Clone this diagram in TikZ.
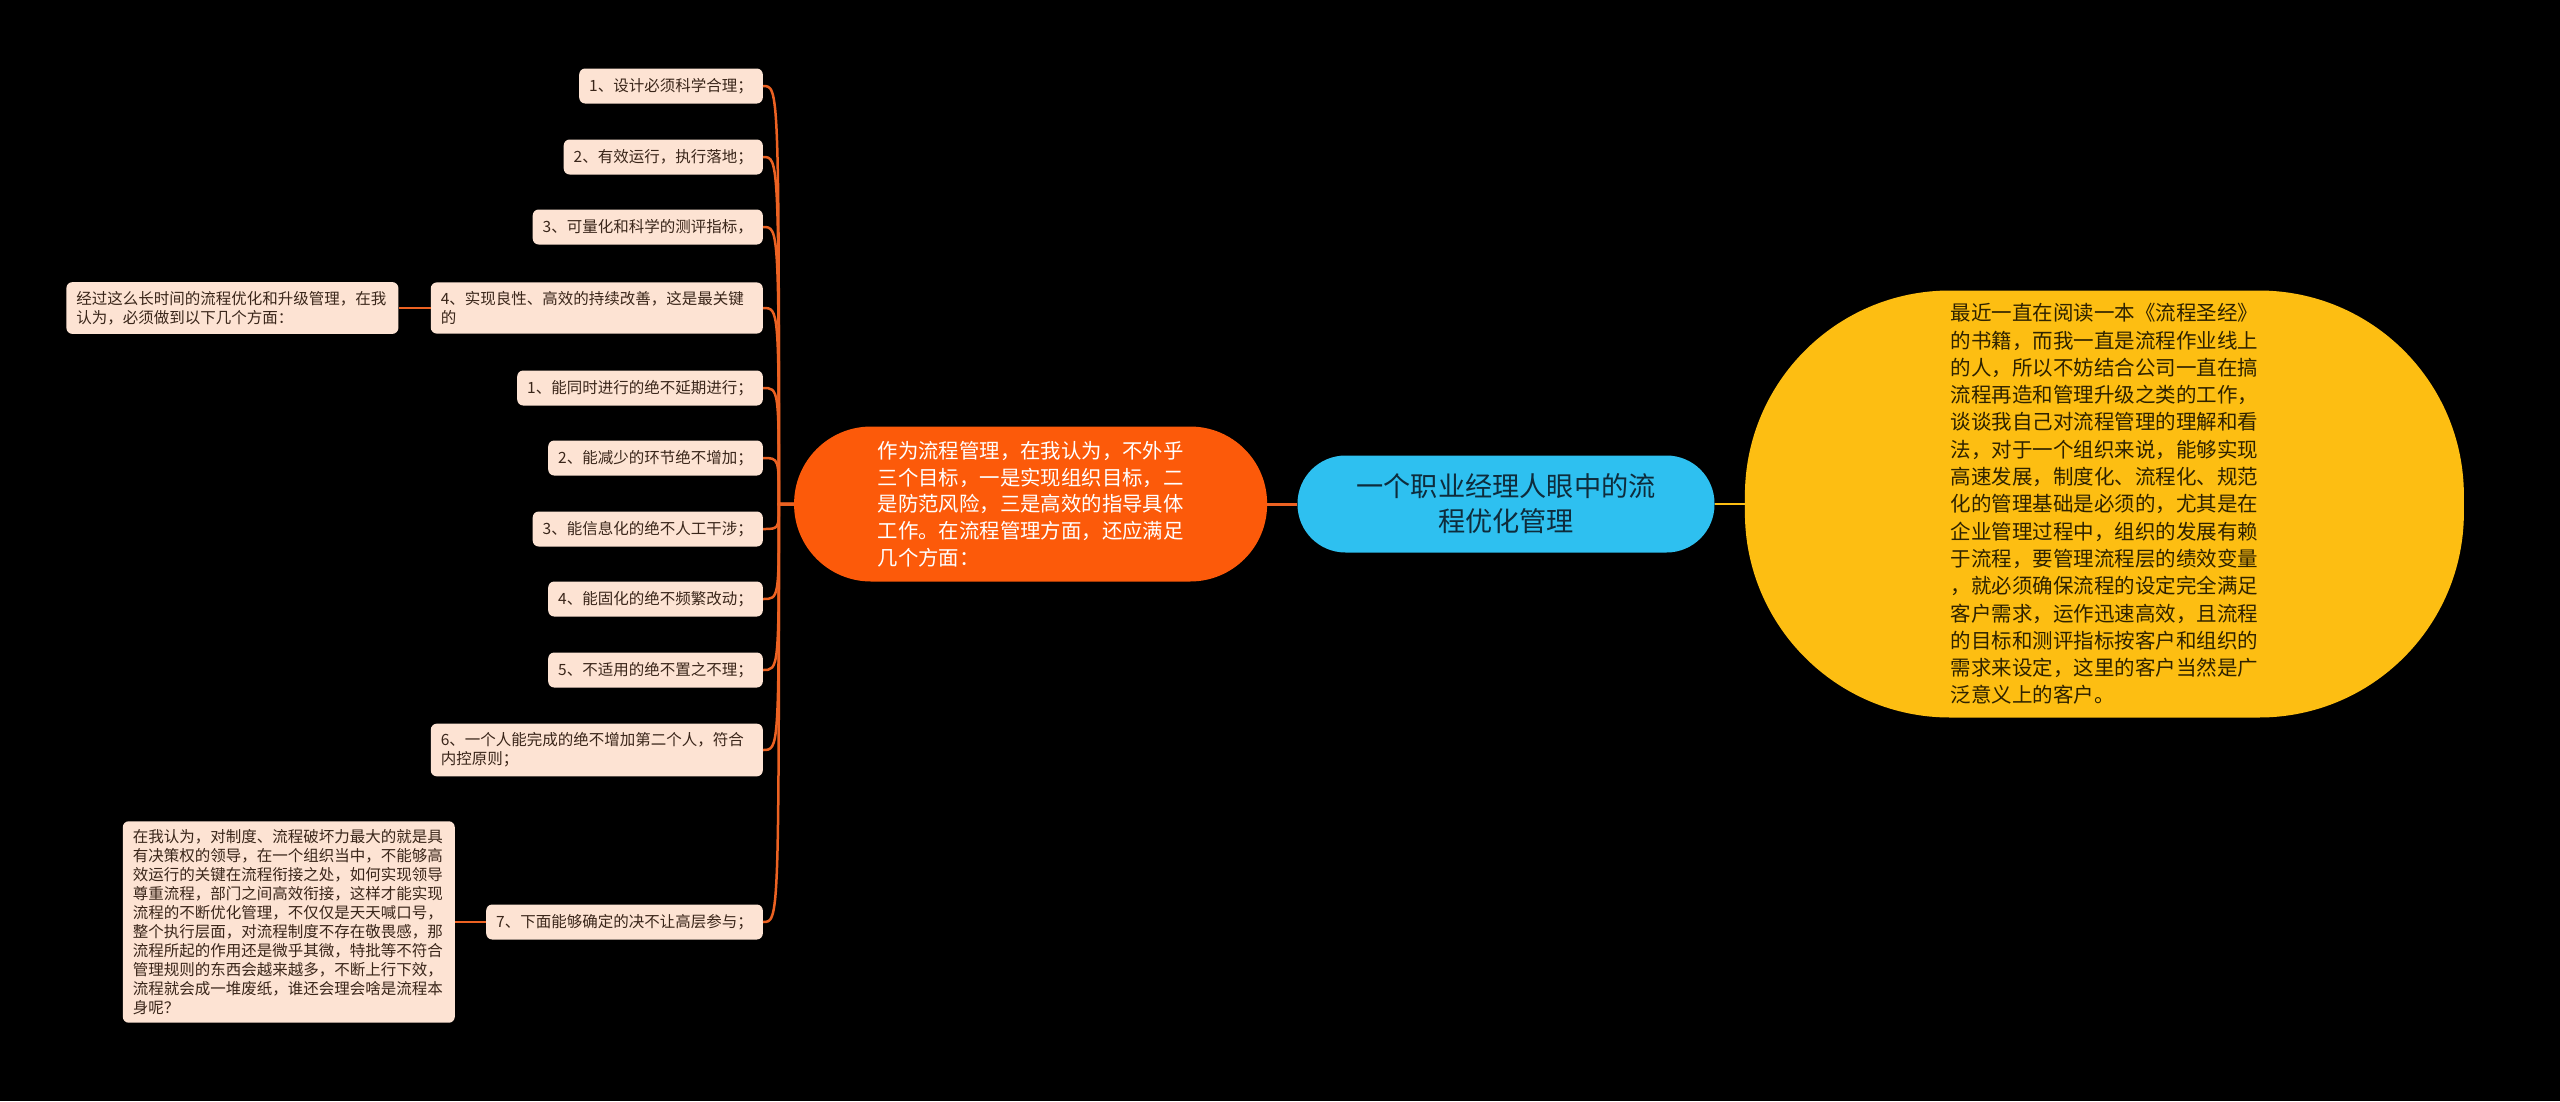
\documentclass[tikz,border=0pt]{standalone}
\usepackage{fontspec}
\setmainfont{Noto Sans CJK SC}
\usetikzlibrary{positioning,calc}
\definecolor{peach}{RGB}{253,227,211}
\definecolor{brown}{RGB}{58,38,26}
\definecolor{orange}{RGB}{252,90,10}
\definecolor{rust}{RGB}{236,98,34}
\definecolor{sky}{RGB}{46,192,240}
\definecolor{navy}{RGB}{14,44,60}
\definecolor{gold}{RGB}{253,190,18}
\definecolor{ink}{RGB}{46,34,0}

\begin{document}
\begin{tikzpicture}[x=1pt,y=-1pt]

		\def\hubgap{15}

		\tikzset{link/.style={draw,rust,line width=2.5pt}}
		\tikzset{leaf/.style={fill=peach,text=brown,rounded corners=6pt,inner xsep=10pt,inner ysep=9pt,minimum height=35pt,align=left,anchor=east,font=\fontsize{15.5}{19}\selectfont}}
		\tikzset{wide/.style={leaf,text width=312pt}}
		\tikzset{bubble/.style={inner sep=0pt,align=left,font=\fontsize{20.4}{26.7}\selectfont}}

		\fill[black] (0,0) rectangle (2560,1101);

		\node[fill=sky,text=navy,rounded corners=48pt,minimum width=417pt,minimum height=97pt,align=center,font=\fontsize{27.2}{35}\selectfont] (topic) at (1506,504) {一个职业经理人眼中的流\\程优化管理};

		\node[bubble,fill=orange,text=white,rounded corners=77pt,minimum width=473pt,minimum height=155pt,left=30pt of topic] (mid) {作为流程管理，在我认为，不外乎\\三个目标，一是实现组织目标，二\\是防范风险，三是高效的指导具体\\工作。在流程管理方面，还应满足\\几个方面：};

		\node[bubble,fill=gold,text=ink,rounded corners=205pt,minimum width=719pt,minimum height=427pt,right=30pt of topic,font=\fontsize{20.5}{27.3}\selectfont] (book) {最近一直在阅读一本《流程圣经》\\的书籍，而我一直是流程作业线上\\的人，所以不妨结合公司一直在搞\\流程再造和管理升级之类的工作，\\谈谈我自己对流程管理的理解和看\\法，对于一个组织来说，能够实现\\高速发展，制度化、流程化、规范\\化的管理基础是必须的，尤其是在\\企业管理过程中，组织的发展有赖\\于流程，要管理流程层的绩效变量\\，就必须确保流程的设定完全满足\\客户需求，运作迅速高效，且流程\\的目标和测评指标按客户和组织的\\需求来设定，这里的客户当然是广\\泛意义上的客户。};

		% leaves of the orange branch
		\node[leaf] (c1) at (763,86) {1、设计必须科学合理；};
		\node[leaf] (c2) at (763,157) {2、有效运行，执行落地；};
		\node[leaf] (c3) at (763,227) {3、可量化和科学的测评指标，};
		\node[wide] (c4) at (763,308) {4、实现良性、高效的持续改善，这是最关键\\的};
		\node[leaf] (c5) at (763,388) {1、能同时进行的绝不延期进行；};
		\node[leaf] (c6) at (763,458) {2、能减少的环节绝不增加；};
		\node[leaf] (c7) at (763,529) {3、能信息化的绝不人工干涉；};
		\node[leaf] (c8) at (763,599) {4、能固化的绝不频繁改动；};
		\node[leaf] (c9) at (763,670) {5、不适用的绝不置之不理；};
		\node[wide] (c10) at (763,750) {6、一个人能完成的绝不增加第二个人，符合\\内控原则；};
		\node[leaf] (c11) at (763,922) {7、下面能够确定的决不让高层参与；};

		\node[wide,left=32pt of c4] (n4) {经过这么长时间的流程优化和升级管理，在我\\认为，必须做到以下几个方面：};
		\node[wide,inner ysep=8pt,left=31pt of c11] (n11) {在我认为，对制度、流程破坏力最大的就是具\\有决策权的领导，在一个组织当中，不能够高\\效运行的关键在流程衔接之处，如何实现领导\\尊重流程，部门之间高效衔接，这样才能实现\\流程的不断优化管理，不仅仅是天天喊口号，\\整个执行层面，对流程制度不存在敬畏感，那\\流程所起的作用还是微乎其微，特批等不符合\\管理规则的东西会越来越多，不断上行下效，\\流程就会成一堆废纸，谁还会理会啥是流程本\\身呢？};

		\coordinate (hub) at ($(mid.west)+(-\hubgap,0)$);

		\draw[link,line width=3pt] (topic.west) -- (mid.east);
		\draw[gold,line width=2.5pt] (topic.east) -- (book.west);

		\foreach \n in {c1,c2,c3,c4,c5,c6,c7,c8,c9,c10,c11}
			\draw[link] (mid.west) -- (hub) .. controls (hub |- \n.east) .. (\n.east);

		\draw[link] (c4.west) -- (n4.east);
		\draw[link] (c11.west) -- (n11.east);

	\end{tikzpicture}
\end{document}
